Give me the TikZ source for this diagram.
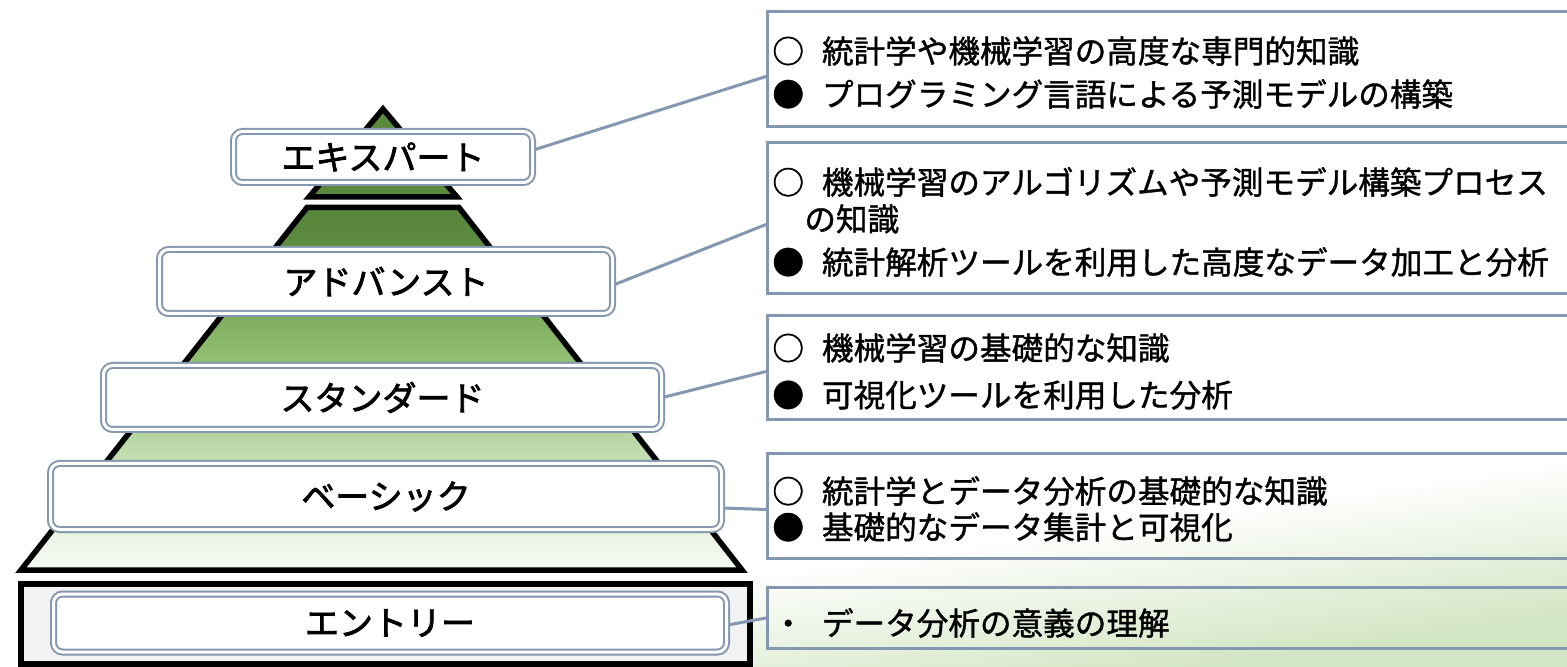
\documentclass[tikz,border=0pt]{standalone}
\usepackage{fontspec}
\newfontfamily\jp[FakeBold=1.2]{Noto Sans CJK JP}
\newfontfamily\jpl[FakeBold=2.2]{Noto Sans CJK JP}
\usetikzlibrary{calc}
\definecolor{lineblue}{HTML}{8497B0}
\definecolor{dkgreen}{HTML}{5A893B}
\definecolor{bgG}{HTML}{D3E6C4}
\definecolor{entryfill}{HTML}{F2F2F2}
\definecolor{pa}{HTML}{F6FAF3}
\definecolor{pb}{HTML}{E9F2E1}
\definecolor{pc}{HTML}{C5DFB5}
\definecolor{pd}{HTML}{B5D5A1}
\definecolor{pe}{HTML}{92BF72}
\definecolor{pf}{HTML}{80AE60}
\definecolor{pg}{HTML}{5E8C40}
\definecolor{ph}{HTML}{56843A}
\pgfdeclareverticalshading{pyrshade}{100bp}{color(0bp)=(pa); color(25bp)=(pa); color(30.5bp)=(pb); color(40.2bp)=(pc); color(43.6bp)=(pd); color(53.9bp)=(pe); color(59.7bp)=(pf); color(69.6bp)=(pg); color(75bp)=(ph); color(100bp)=(ph)}
\pgfdeclareverticalshading{bgshade}{100bp}{color(0bp)=(bgG); color(25bp)=(bgG); color(35bp)=(white); color(100bp)=(white)}
\pgfdeclarelayer{back}
\pgfdeclarelayer{mid}
\pgfsetlayers{back,mid,main}
\tikzset{
  lab/.style={draw=lineblue, double=white, line width=1pt, double distance=1.5pt,
    rounded corners=4.5pt, fill=white, inner sep=0pt,
    font=\jpl\fontsize{17pt}{20pt}\selectfont},
  rbox/.style={draw=lineblue, line width=1.5pt, inner sep=0pt, anchor=north west},
  conn/.style={draw=lineblue, line width=1.5pt},
  rtext/.style={anchor=west, inner sep=0pt, font=\jp\fontsize{15.8pt}{19pt}\selectfont},
  blk/.style={draw=black, line width=2.75pt},
}
\begin{document}
\begin{tikzpicture}[x=0.5pt,y=-0.5pt]
\useasboundingbox (0,0) rectangle (1567,667);
\clip (0,0) rectangle (1567,667);
\begin{pgfonlayer}{back}
\shade[shading=bgshade, shading angle=8] (0,0) rectangle (1567,667);
\filldraw[blk, fill=dkgreen] (383,109) -- (457,197) -- (309,197) -- cycle;
\shadedraw[blk, shading=pyrshade] (307,207.5) -- (459,207.5) -- (742,570) -- (21,570) -- cycle;
\filldraw[draw=black, line width=3pt, fill=entryfill] (21,584) rectangle (750,664);
\end{pgfonlayer}
% level labels
\node[lab, minimum width=149.5pt, minimum height=25.5pt] (lab1) at (383,157) {エキスパート};
\node[lab, minimum width=226.5pt, minimum height=32pt] (lab2) at (386,281.5) {アドバンスト};
\node[lab, minimum width=279pt, minimum height=32pt] (lab3) at (382.5,397.5) {スタンダード};
\node[lab, minimum width=335.5pt, minimum height=33pt] (lab4) at (386,496.5) {ベーシック};
\node[lab, minimum width=336.5pt, minimum height=29pt] (lab5) at (390,623) {エントリー};
% description boxes
\node[rbox, minimum width=407pt, minimum height=57.5pt] (box1) at (766,10) {};
\node[rbox, minimum width=407pt, minimum height=75.5pt] (box2) at (766,141) {};
\node[rbox, minimum width=407pt, minimum height=52pt] (box3) at (766,314) {};
\node[rbox, minimum width=407pt, minimum height=52.5pt] (box4) at (766,452) {};
\node[rbox, minimum width=407pt, minimum height=30.5pt] (box5) at (766,586) {};
% connectors
\begin{pgfonlayer}{mid}
\draw[conn] ([yshift=3.5pt]lab1.east) -- ([yshift=-3.75pt]box1.west);
\draw[conn] ([yshift=-1.75pt]lab2.east) -- ([yshift=-3.25pt]box2.west);
\draw[conn] (lab3.east) -- ([yshift=-2pt]box3.west);
\draw[conn] ([yshift=-5.75pt]lab4.east) -- ([yshift=-1.75pt]box4.west);
\draw[conn] ([yshift=-1pt]lab5.east) -- (box5.west);
\end{pgfonlayer}
% texts
\node[rtext] (t11) at (772,51) {○\hspace{9pt}統計学や機械学習の高度な専門的知識};
\node[rtext] (t12) at (772,94) {●\hspace{9pt}プログラミング言語による予測モデルの構築};
\node[rtext] (t21) at (772,182) {○\hspace{9pt}機械学習のアルゴリズムや予測モデル構築プロセス};
\node[rtext] (t22) at (804,219) {の知識};
\node[rtext] (t23) at (772,262) {●\hspace{9pt}統計解析ツールを利用した高度なデータ加工と分析};
\node[rtext] (t31) at (772,348) {○\hspace{9pt}機械学習の基礎的な知識};
\node[rtext] (t32) at (772,395) {●\hspace{9pt}可視化ツールを利用した分析};
\node[rtext] (t41) at (772,491) {○\hspace{9pt}統計学とデータ分析の基礎的な知識};
\node[rtext] (t42) at (772,527) {●\hspace{9pt}基礎的なデータ集計と可視化};
\node[rtext] (t51) at (772,623) {・\hspace{9pt}データ分析の意義の理解};
\end{tikzpicture}
\end{document}
